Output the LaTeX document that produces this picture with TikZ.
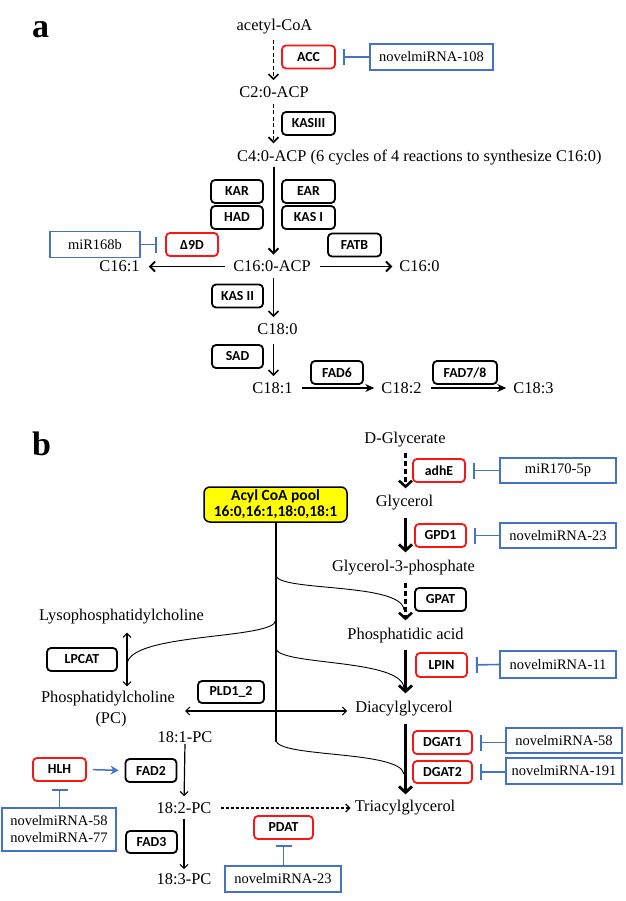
\documentclass[tikz,border=0pt]{standalone}
\usepackage{fontspec}
\setmainfont{Liberation Serif}
\newfontfamily\enzfont{Carlito}
\usetikzlibrary{arrows.meta}
\definecolor{mblue}{RGB}{68,114,196}
\definecolor{mred}{RGB}{250,20,20}
\definecolor{myellow}{RGB}{255,255,0}
\begin{document}
\begin{tikzpicture}[x=1pt,y=-1pt,
  lbl/.style={inner sep=0pt, font=\fontsize{16.4}{18}\selectfont},
  panel/.style={inner sep=0pt, anchor=base west, font=\bfseries\fontsize{34}{36}\selectfont},
  enzb/.style={draw, line width=1.8pt, rounded corners=4pt, inner sep=0pt,
    font=\enzfont\bfseries\fontsize{13.8}{15}\selectfont, minimum height=23pt},
  renz/.style={enzb, draw=mred},
  mirb/.style={draw=mblue, line width=1.5pt, inner sep=0pt,
    font=\fontsize{14.5}{17}\selectfont, minimum height=26pt},
  inh/.style={draw=mblue, line width=1.6pt, -{Bar[width=16pt,line width=2pt]}, shorten >=7pt},
  aarr/.style={line width=1.7pt, -{Straight Barb[length=5pt,width=10pt]}},
  harr/.style={line width=1.8pt, -{Stealth[length=9pt,width=8pt]}},
  barr/.style={line width=2.8pt, -{Straight Barb[length=6pt,width=13pt]}},
  tarr/.style={line width=1.2pt, -{Straight Barb[length=4pt,width=8pt]}},
  tdarr/.style={line width=1.1pt, {Straight Barb[length=4pt,width=8pt]}-{Straight Barb[length=4pt,width=8pt]}},
  adash/.style={dash pattern=on 4pt off 2.5pt},
  bdash/.style={dash pattern=on 5pt off 3pt},
  curve/.style={line width=0.9pt}
]
\path[use as bounding box] (0,0) rectangle (625,901);
\coordinate (ax) at (273.5,0);
\coordinate (bx) at (405.5,0);

% ---------------- panel a ----------------
\node[panel] (pa) at (32,38) {a};
\node[lbl] (acetyl) at (274.5,27) {acetyl-CoA};
\node[renz, minimum width=53pt] (acc) at (308.5,57) {ACC};
\node[mirb, minimum width=123pt] (m108) at (431.5,57) {novelmiRNA-108};
\node[lbl] (c2) at (274,92) {C2:0-ACP};
\node[enzb, minimum width=53pt] (kasiii) at (308.5,123.5) {KASIII};
\node[lbl, anchor=west] (c4) at (237,157) {C4:0-ACP (6 cycles of 4 reactions to synthesize C16:0)};
\node[enzb, minimum width=52pt] (kar) at (237,191.5) {KAR};
\node[enzb, minimum width=53pt] (ear) at (308.5,191.5) {EAR};
\node[enzb, minimum width=52pt] (had) at (237,217.5) {HAD};
\node[enzb, minimum width=53pt] (kasi) at (308.5,217.5) {KAS I};
\node[renz, minimum width=52pt] (d9d) at (192,244.5) {Δ9D};
\node[mirb, minimum width=90pt] (m168) at (95,244.5) {miR168b};
\node[enzb, minimum width=53pt] (fatb) at (354.5,245) {FATB};
\node[lbl] (c160acp) at (272,266.5) {C16:0-ACP};
\node[lbl] (c161) at (119.5,266.5) {C16:1};
\node[lbl] (c160) at (419.5,266.5) {C16:0};
\node[enzb, minimum width=51pt] (kasii) at (237.5,296) {KAS II};
\node[lbl] (c180) at (277.5,329) {C18:0};
\node[enzb, minimum width=51pt] (sad) at (237.5,356.5) {SAD};
\node[lbl] (c181) at (272.5,388) {C18:1};
\node[enzb, minimum width=52pt] (fad6) at (337,372.5) {FAD6};
\node[lbl] (c182) at (401.5,388) {C18:2};
\node[enzb, minimum width=64pt] (fad78) at (465,372.5) {FAD7/8};
\node[lbl] (c183) at (533.5,388) {C18:3};

\draw[aarr, adash, shorten <=5pt, shorten >=6pt] (acetyl.south -| ax) -- (c2.north -| ax);
\draw[aarr, adash, shorten <=6pt, shorten >=6pt] (c2.south -| ax) -- (c4.north -| ax);
\draw[aarr, line width=2pt, shorten <=2pt, shorten >=6pt] (c4.south -| ax) -- (c160acp.north -| ax);
\draw[aarr, line width=1.8pt, shorten <=8pt, shorten >=9pt] (c160acp.west) -- (c161.east);
\draw[aarr, line width=1.8pt, shorten <=9pt, shorten >=7pt] (c160acp.east) -- (c160.west);
\draw[aarr, shorten <=6pt, shorten >=6pt] (c160acp.south -| ax) -- (c180.north -| ax);
\draw[aarr, shorten <=9pt, shorten >=6pt] (c180.south -| ax) -- (c181.north -| ax);
\draw[harr, shorten <=9pt, shorten >=7pt] (c181.east) -- (c182.west);
\draw[harr, shorten <=9pt, shorten >=7pt] (c182.east) -- (c183.west);
\draw[inh] (m108.west) -- (acc.east);
\draw[inh, shorten >=8pt] (m168.east) -- (d9d.west);

% ---------------- panel b ----------------
\node[panel] (pb) at (32,455) {b};
\node[lbl] (dgly) at (405,440) {D-Glycerate};
\node[renz, minimum width=52pt] (adhe) at (439,470.5) {adhE};
\node[mirb, minimum width=116pt, minimum height=25pt] (m170) at (558,470.5) {miR170-5p};
\node[draw, line width=1.5pt, fill=myellow, rounded corners=6pt, minimum width=143pt, minimum height=35pt,
  inner sep=0pt, align=center, font=\enzfont\bfseries\fontsize{15.5}{16}\selectfont] (pool) at (275.5,504.5)
  {Acyl CoA pool\\16:0,16:1,18:0,18:1};
\node[lbl] (glyc) at (404.5,503) {Glycerol};
\node[renz, minimum width=51pt] (gpd1) at (440.5,535.5) {GPD1};
\node[mirb, minimum width=116pt, minimum height=25pt] (m23) at (558,535.5) {novelmiRNA-23};
\node[lbl] (g3p) at (403.5,568) {Glycerol-3-phosphate};
\node[enzb, minimum width=51pt] (gpat) at (440.5,599.5) {GPAT};
\node[lbl] (pacid) at (405.5,636) {Phosphatidic acid};
\node[renz, minimum width=51pt, minimum height=24pt] (lpin) at (441.5,665) {LPIN};
\node[mirb, minimum width=116pt, minimum height=27pt] (m11) at (558,664.5) {novelmiRNA-11};
\node[lbl] (dag) at (404,709) {Diacylglycerol};
\node[renz, minimum width=59pt] (dgat1) at (442.5,742.5) {DGAT1};
\node[mirb, minimum width=116pt, minimum height=25pt] (m58) at (564,740.5) {novelmiRNA-58};
\node[renz, minimum width=59pt, minimum height=22pt] (dgat2) at (442.5,772) {DGAT2};
\node[mirb, minimum width=116pt] (m191) at (564,771) {novelmiRNA-191};
\node[lbl] (tag) at (405,808) {Triacylglycerol};

\node[lbl] (lyso) at (121.5,617) {Lysophosphatidylcholine};
\node[enzb, minimum width=70pt] (lpcat) at (82,659.5) {LPCAT};
\node[lbl] (pc) at (108,699) {Phosphatidylcholine};
\node[lbl] (pcb) at (111,720) {(PC)};
\node[enzb, minimum width=66pt, minimum height=22pt] (pld) at (231,692) {PLD1\_2};
\node[lbl] (p181) at (185,737) {18:1-PC};
\node[renz, minimum width=53pt] (hlh) at (59.5,769.5) {HLH};
\node[enzb, minimum width=51pt] (fad2) at (151,770.5) {FAD2};
\node[mirb, minimum width=114pt, minimum height=43pt, align=center, font=\fontsize{14.5}{17}\selectfont] (m5877) at (59,829.5)
  {novelmiRNA-58\\novelmiRNA-77};
\node[lbl] (p182) at (184,808) {18:2-PC};
\node[enzb, minimum width=51pt, minimum height=22pt] (fad3) at (151.5,842) {FAD3};
\node[lbl] (p183) at (184,879) {18:3-PC};
\node[renz, minimum width=59pt] (pdat) at (283.5,827.5) {PDAT};
\node[mirb, minimum width=116pt] (m23b) at (283,879) {novelmiRNA-23};

\coordinate (pldy) at (0,711);

% right column
\draw[barr, bdash, line width=2.5pt, shorten <=5pt, shorten >=7pt] (dgly.south -| bx) -- (glyc.north -| bx);
\draw[barr, shorten <=7pt, shorten >=8pt] (glyc.south -| bx) -- (g3p.north -| bx);
\draw[barr, bdash, line width=2.5pt, shorten <=7pt, shorten >=8pt] (g3p.south -| bx) -- (pacid.north -| bx);
\draw[barr, shorten <=6pt, shorten >=8pt] (pacid.south -| bx) -- (dag.north -| bx);
\draw[barr, shorten <=7pt, shorten >=6pt] (dag.south -| bx) -- (tag.north -| bx);

% acyl pool trunk and curves
\coordinate (t1) at (275.7,575);
\coordinate (t2) at (275.7,620);
\coordinate (t3) at (275.7,648);
\coordinate (e1) at (404,610);
\coordinate (e2) at (127,665);
\coordinate (e3) at (404,688);
\coordinate (e4) at (404,774);
\draw[line width=2.2pt] (pool.south -| t1) -- (275.7,742);
\draw[curve] (275.7,740) .. controls (277,758) and (400,750) .. (e4);
\draw[curve] (t1) .. controls (277,592) and (402,582) .. (e1);
\draw[curve] (t2) .. controls (276,640) and (127,632) .. (e2);
\draw[curve] (t3) .. controls (277,666) and (402,658) .. (e3);

% left side
\draw[tdarr, shorten <=8pt, shorten >=5pt] (lyso.south -| e2) -- (pc.north -| e2);
\draw[tdarr, shorten <=10pt, shorten >=8pt] (pc.east |- pldy) -- (dag.west |- pldy);
\draw[tarr, shorten <=1pt, shorten >=6pt] (p181.south) -- (p182.north);
\draw[tarr, shorten <=5pt, shorten >=4pt] (p182.south) -- (p183.north);
\draw[tarr, dash pattern=on 3pt off 2pt, shorten <=9pt, shorten >=4pt] (p182.east) -- (tag.west);
\draw[draw=mblue, line width=1.5pt, -{Stealth[length=8pt,width=9pt]}, shorten <=6pt, shorten >=6pt] (hlh.east) -- (fad2.west);

% inhibitions
\draw[inh] (m170.west) -- (adhe.east);
\draw[inh] (m23.west) -- (gpd1.east);
\draw[inh, shorten >=8pt] (m11.west) -- (lpin.east);
\draw[inh] (m58.west |- dgat1) -- (dgat1.east);
\draw[inh] (m191.west |- dgat2) -- (dgat2.east);
\draw[inh] (m5877.north -| hlh) -- (hlh.south);
\draw[inh, shorten >=5pt] (m23b.north -| pdat) -- (pdat.south);
\end{tikzpicture}
\end{document}
